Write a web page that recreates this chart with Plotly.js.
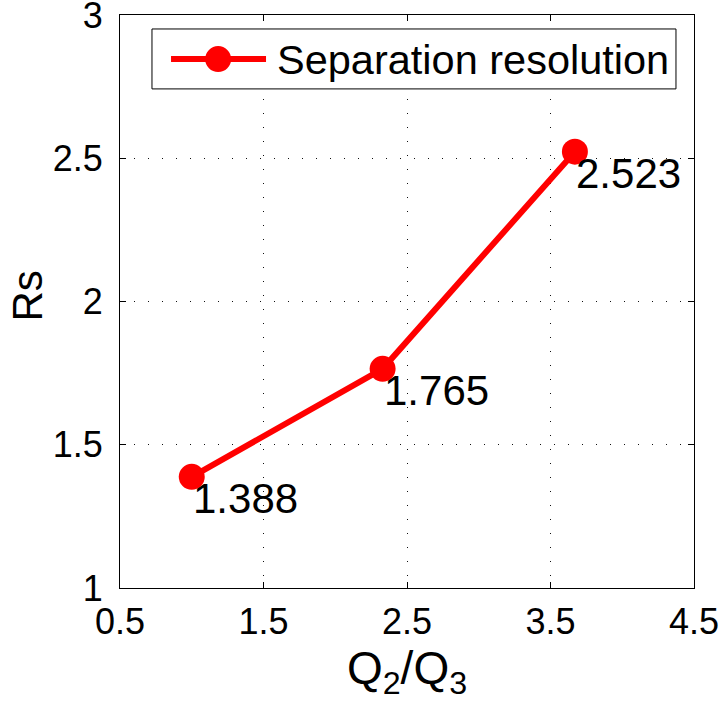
<!DOCTYPE html>
<html>
<head>
<meta charset="utf-8">
<script src="https://cdn.plot.ly/plotly-3.0.1.min.js"></script>
<style>html,body{margin:0;padding:0;background:#fff;}#chart{width:720px;height:704px;}</style>
</head>
<body>
<div id="chart"></div>
<script>
// Data
const ratioQ2Q3 = [1, 2.33, 3.67];
const resolutionRs = [1.388, 1.765, 2.523];
const seriesName = 'Separation resolution';
const xTickVals = [0.5, 1.5, 2.5, 3.5, 4.5];
const yTickVals = [1, 1.5, 2, 2.5, 3];

const FONT = 'Liberation Sans, Arial, Helvetica, sans-serif';
const RED = '#ff0000';

const trace = {
  x: ratioQ2Q3,
  y: resolutionRs,
  type: 'scatter',
  mode: 'lines+markers',
  name: seriesName,
  line: {color: RED, width: 6},
  marker: {color: RED, size: 26},
  showlegend: false,
  cliponaxis: false
};

const labelAnnotations = ratioQ2Q3.map((xv, i) => ({
  x: xv, y: resolutionRs[i], xref: 'x', yref: 'y',
  text: resolutionRs[i].toFixed(3),
  showarrow: false, xanchor: 'left', yanchor: 'top',
  xshift: -1, yshift: 4,
  font: {family: FONT, size: 42, color: '#000'}
}));

// Custom MATLAB-style legend (paper coordinates)
const legendShapes = [
  {type: 'rect', xref: 'paper', yref: 'paper', x0: 0.0557, x1: 0.9686, y0: 0.871, y1: 0.9756,
   line: {color: '#000', width: 1}, fillcolor: '#fff'},
  {type: 'line', xref: 'paper', yref: 'paper', x0: 0.0889, x1: 0.2544, y0: 0.923, y1: 0.923,
   line: {color: RED, width: 6}},
  {type: 'circle', xref: 'paper', yref: 'paper', xsizemode: 'pixel', ysizemode: 'pixel',
   xanchor: 0.171, yanchor: 0.923, x0: -13, x1: 13, y0: -13, y1: 13,
   line: {color: RED, width: 0}, fillcolor: RED}
];

const legendText = {
  xref: 'paper', yref: 'paper', x: 0.27, y: 0.923, xanchor: 'left', yanchor: 'middle',
  text: seriesName, showarrow: false,
  font: {family: FONT, size: 41.5, color: '#000'}
};

const yTitle = {
  xref: 'paper', yref: 'paper', x: 0, y: 0.5, xanchor: 'center', yanchor: 'middle',
  xshift: -93, yshift: 5, textangle: -90,
  text: 'Rs', showarrow: false,
  font: {family: FONT, size: 42, color: '#000'}
};

const axisCommon = {
  showline: true, linecolor: '#000', linewidth: 1, mirror: 'ticks',
  ticks: 'inside', ticklen: 6, tickcolor: '#000', tickwidth: 1,
  showgrid: true, gridcolor: '#111', gridwidth: 1, griddash: '1px,13px',
  zeroline: false, ticklabeloverflow: 'allow',
  tickfont: {family: FONT, size: 36, color: '#000'}
};

const layout = {
  width: 720, height: 704,
  margin: {l: 120, r: 26, t: 15, b: 116},
  paper_bgcolor: '#fff', plot_bgcolor: '#fff',
  xaxis: Object.assign({}, axisCommon, {
    range: [0.5, 4.5], tickmode: 'array', tickvals: xTickVals,
    ticktext: xTickVals.map(v => String(v)),
    ticklabelstandoff: 2,
    title: {text: 'Q<sub>2</sub>/Q<sub>3</sub>', font: {family: FONT, size: 46, color: '#000'}, standoff: 0}
  }),
  yaxis: Object.assign({}, axisCommon, {
    range: [1, 3], tickmode: 'array', tickvals: yTickVals,
    ticktext: yTickVals.map(v => String(v)),
    ticklabelstandoff: 9
  }),
  shapes: legendShapes,
  annotations: labelAnnotations.concat([legendText, yTitle]),
  showlegend: false
};

Plotly.newPlot('chart', [trace], layout, {displayModeBar: false, staticPlot: true});
</script>
</body>
</html>
